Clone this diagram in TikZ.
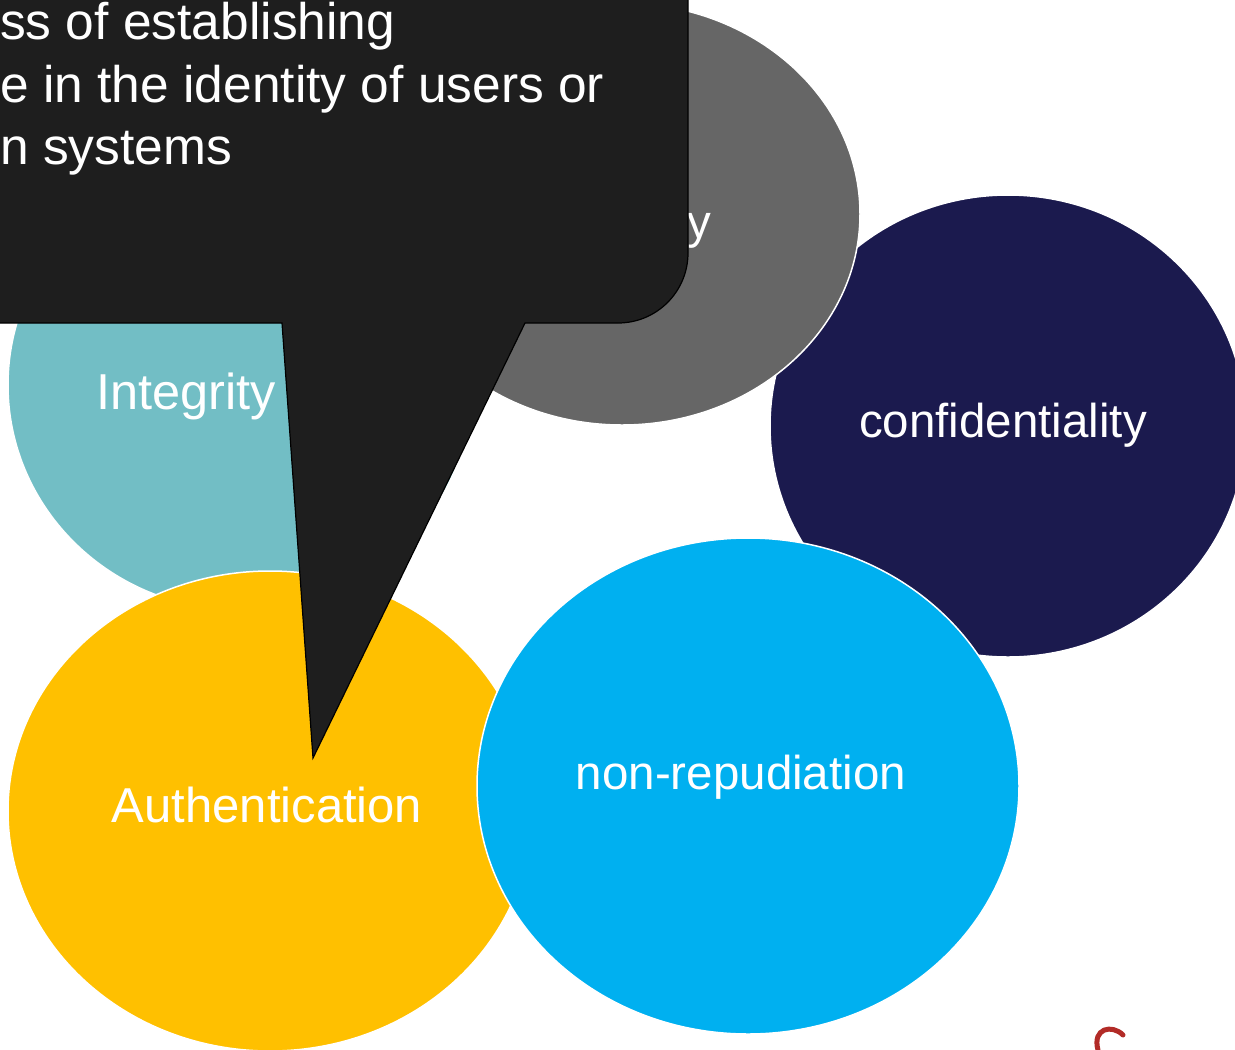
\documentclass[tikz,border=0pt]{standalone}
\usepackage{fontspec}
\setmainfont{Liberation Sans}
\usetikzlibrary{shapes.geometric}

\definecolor{integritycol}{HTML}{72BEC5}
\definecolor{availcol}{HTML}{666666}
\definecolor{confcol}{HTML}{1B1A4E}
\definecolor{authcol}{HTML}{FFC000}
\definecolor{nonrepcol}{HTML}{00B0F0}
\definecolor{calloutcol}{HTML}{1E1E1E}
\definecolor{markcol}{HTML}{B22B27}

\tikzset{
  bubble/.style={ellipse, draw=white, line width=1.5pt, inner sep=0pt},
  bubtext/.style={text=white, inner sep=0pt, anchor=base, font=\fontsize{47.5}{57}\selectfont},
  callout/.style={fill=calloutcol, draw=black, line width=1.2pt},
  calltext/.style={text=white, inner sep=0pt, anchor=base west, font=\fontsize{51.5}{62}\selectfont},
}

\begin{document}
\begin{tikzpicture}[x=1pt, y=-1pt]
\useasboundingbox (0,0) rectangle (1235,1050);

% Ellipses
\node[bubble, fill=confcol, minimum width=476pt, minimum height=462pt] (conf) at (1008,426) {};  % confidentiality
\node[bubble, fill=availcol, minimum width=476pt, minimum height=422pt] (avail) at (622,214) {}; % hidden label
\node[bubble, fill=integritycol, minimum width=464pt, minimum height=450pt] (integ) at (240,385) {};
\node[bubble, fill=authcol, minimum width=524pt, minimum height=480pt] (auth) at (270,811) {};
\node[bubble, fill=nonrepcol, minimum width=542pt, minimum height=496pt] (nonrep) at (748,786) {};

% Labels
\node[bubtext] (conflabel) at (1003,437) {confidentiality};
\node[bubtext, anchor=base west] (availlabel) at (687,238) {y};
\node[bubtext, font=\fontsize{50.5}{60}\selectfont] (integlabel) at (186,409) {Integrity};
\node[bubtext, font=\fontsize{49}{59}\selectfont] (authlabel) at (267,822) {Authentication};
\node[bubtext] (nonreplabel) at (741,789) {non-repudiation};

% Callout
\draw[callout] (-30,-100) -- (688,-100) -- (688,253)
  .. controls (688,291.7) and (656.7,323) .. (618,323)
  -- (525,323) -- (313,758) -- (282,323) -- (-30,323) -- cycle;
\node[calltext] (callone) at (0,39.5) {ss of establishing};
\node[calltext] (calltwo) at (0,102) {e in the identity of users or};
\node[calltext] (callthree) at (0,164) {n systems};

% red stroke, bottom right
\draw[markcol, line width=5pt, line cap=round] (1123,1035) .. controls (1112,1024) and (1092,1028) .. (1098,1050);
\end{tikzpicture}
\end{document}
